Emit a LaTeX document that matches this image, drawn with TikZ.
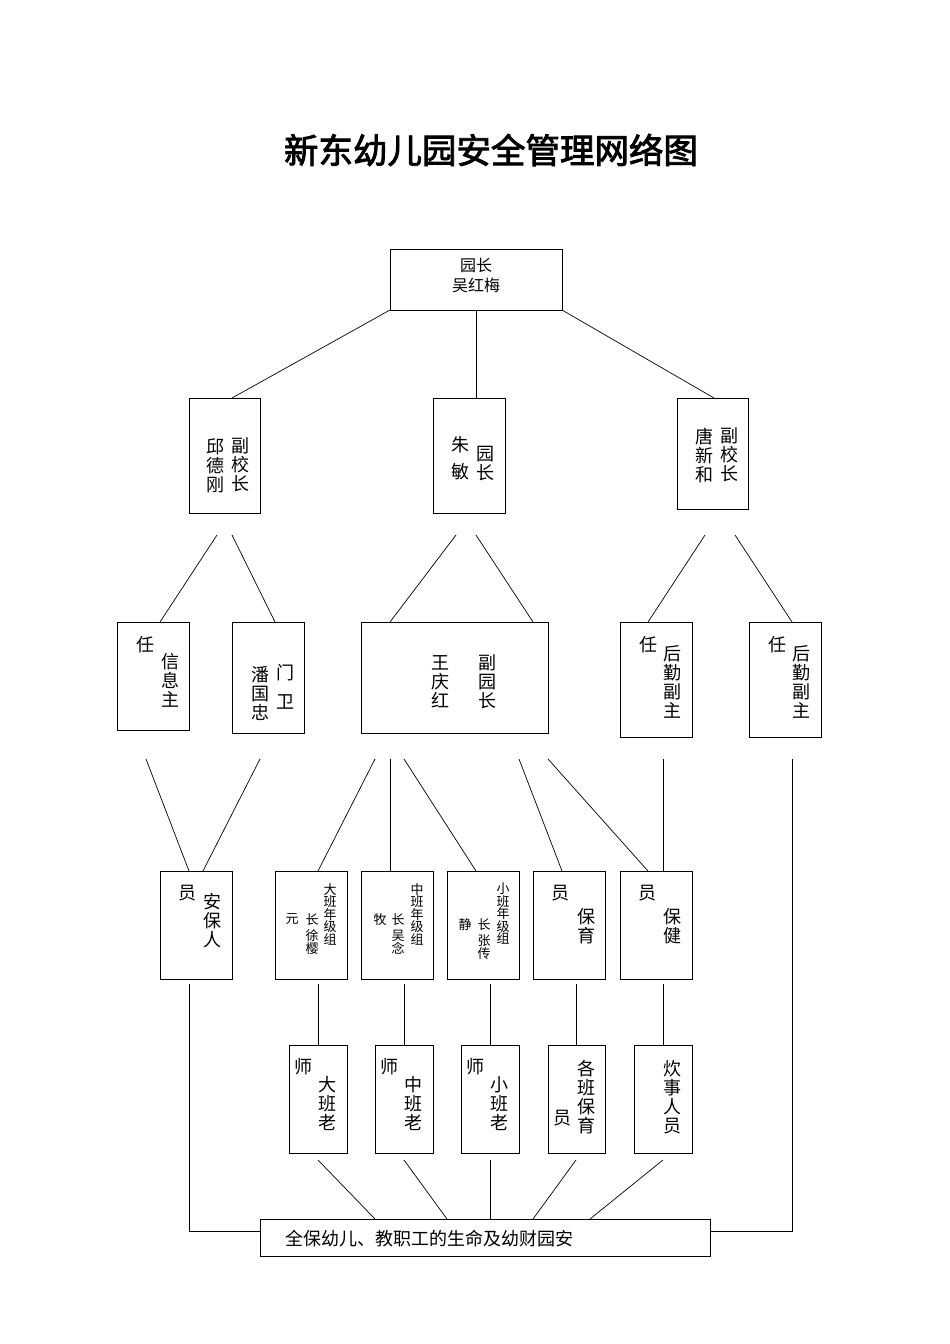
\documentclass[tikz,border=0pt]{standalone}
\usepackage{fontspec}
\newfontfamily\cjk{Noto Sans CJK SC}
\newfontfamily\cjkb[FakeBold=2.5]{Noto Sans CJK SC}
\begin{document}
\begin{tikzpicture}[x=1pt,y=-1pt,
  box/.style={draw,line width=0.9pt},
  ln/.style={line width=0.7pt},
  vt/.style={anchor=north,inner sep=0pt,align=center,font=\cjk\fontsize{18}{19}\selectfont},
  vs/.style={anchor=north,inner sep=0pt,align=center,font=\cjk\fontsize{13}{12.5}\selectfont},
  ht/.style={inner sep=0pt,font=\cjk\fontsize{18}{20}\selectfont}]
\useasboundingbox (0,0) rectangle (950,1344);
\node[font=\cjkb\fontsize{34.5}{38}\selectfont] (title) at (491,150) {新东幼儿园安全管理网络图};
% boxes
\draw[box] (390,249) rectangle (562,310);
\node[align=center,font=\cjk\fontsize{16}{20}\selectfont] (yz) at (476,275) {园长\\吴红梅};
\draw[box] (189,398) rectangle (260,513);
\draw[box] (433,398) rectangle (505,513);
\draw[box] (677,398) rectangle (748,509);
\node[vt] (q1) at (215,438) {邱\\德\\刚};
\node[vt] (q2) at (240,438) {副\\校\\长};
\node[vt] (z1) at (460,436) {朱\\[8pt]敏};
\node[vt] (z2) at (485,446) {园\\长};
\node[vt] (t1) at (704,428) {唐\\新\\和};
\node[vt] (t2) at (729,428) {副\\校\\长};
\draw[ln] (390,310) -- (232,398);
\draw[ln] (476,310) -- (476,398);
\draw[ln] (562,310) -- (714,398);
% level 3
\draw[box] (117,622) rectangle (189,730);
\draw[box] (232,622) rectangle (304,733);
\draw[box] (361,622) rectangle (548,733);
\draw[box] (620,622) rectangle (692,737);
\draw[box] (749,622) rectangle (821,737);
\node[ht] (x1) at (145,645) {任};
\node[vt] (x2) at (170,653) {信\\息\\主};
\node[vt] (m1) at (260,666) {潘\\国\\忠};
\node[vt] (m2) at (285,664) {门\\[10pt]卫};
\node[vt] (w1) at (440,655) {王\\庆\\红};
\node[vt] (w2) at (487,655) {副\\园\\长};
\node[ht] (h1) at (648,645) {任};
\node[vt] (h2) at (672,645) {后\\勤\\副\\主};
\node[ht] (g1) at (777,645) {任};
\node[vt] (g2) at (801,645) {后\\勤\\副\\主};
\coordinate (a1) at (217,535); \coordinate (a2) at (232,535);
\coordinate (a3) at (456,535); \coordinate (a4) at (476,535);
\coordinate (a5) at (705,535); \coordinate (a6) at (735,535);
\draw[ln] (a1) -- (160,622); \draw[ln] (a2) -- (275,622);
\draw[ln] (a3) -- (390,622); \draw[ln] (a4) -- (533,622);
\draw[ln] (a5) -- (648,622); \draw[ln] (a6) -- (792,622);
% level 4
\draw[box] (160,871) rectangle (232,979);
\draw[box] (275,871) rectangle (347,979);
\draw[box] (361,871) rectangle (433,979);
\draw[box] (447,871) rectangle (519,979);
\draw[box] (533,871) rectangle (605,979);
\draw[box] (620,871) rectangle (692,979);
\node[ht] (b1) at (187,893) {员};
\node[vt] (b2) at (212,893) {安\\保\\人};
\node[vs] (d1) at (330,883) {大\\班\\年\\级\\组};
\node[vs] (d2) at (312,913) {长\\[4pt]徐\\樱};
\node[vs] (d3) at (292,913) {元};
\node[vs] (c1) at (417,883) {中\\班\\年\\级\\组};
\node[vs] (c2) at (398,913) {长\\[4pt]吴\\念};
\node[vs] (c3) at (380,913) {牧};
\node[vs] (s1) at (503,883) {小\\班\\年\\级\\组};
\node[vs] (s2) at (484,918) {长\\[4pt]张\\传};
\node[vs] (s3) at (465,918) {静};
\node[ht] (y1) at (560,893) {员};
\node[vt] (y2) at (586,908) {保\\育};
\node[ht] (j1) at (647,893) {员};
\node[vt] (j2) at (672,908) {保\\健};
\draw[ln] (146,759) -- (189,871); \draw[ln] (260,759) -- (203,871);
\draw[ln] (375,759) -- (318,871); \draw[ln] (390,759) -- (390,871);
\draw[ln] (404,759) -- (476,871); \draw[ln] (519,759) -- (562,871);
\draw[ln] (548,759) -- (648,871); \draw[ln] (663,759) -- (663,871);
% level 5
\draw[box] (289,1045) rectangle (347,1153);
\draw[box] (375,1045) rectangle (433,1153);
\draw[box] (461,1045) rectangle (519,1153);
\draw[box] (548,1045) rectangle (605,1153);
\draw[box] (634,1045) rectangle (692,1153);
\node[ht] (e1) at (303,1067) {师};
\node[vt] (e2) at (327,1076) {大\\班\\老};
\node[ht] (f1) at (389,1067) {师};
\node[vt] (f2) at (413,1076) {中\\班\\老};
\node[ht] (k1) at (475,1067) {师};
\node[vt] (k2) at (499,1076) {小\\班\\老};
\node[vt] (p1) at (586,1060) {各\\班\\保\\育};
\node[ht] (p2) at (562,1118) {员};
\node[vt] (r1) at (672,1060) {炊\\事\\人\\员};
\foreach \x in {318,404,490,576,663} \draw[ln] (\x,984) -- (\x,1045);
% bottom
\draw[box] (260,1219) rectangle (710,1256);
\node[anchor=west,inner sep=0pt,font=\cjk\fontsize{18}{20}\selectfont] (bt) at (285,1239) {全保幼儿、教职工的生命及幼财园安};
\draw[ln] (318,1160) -- (375,1219); \draw[ln] (404,1160) -- (447,1219);
\draw[ln] (490,1160) -- (490,1219); \draw[ln] (576,1160) -- (533,1219);
\draw[ln] (663,1160) -- (590,1219);
\draw[ln] (189,984) -- (189,1231) -- (260,1231);
\draw[ln] (792,759) -- (792,1231) -- (710,1231);
\end{tikzpicture}
\end{document}
